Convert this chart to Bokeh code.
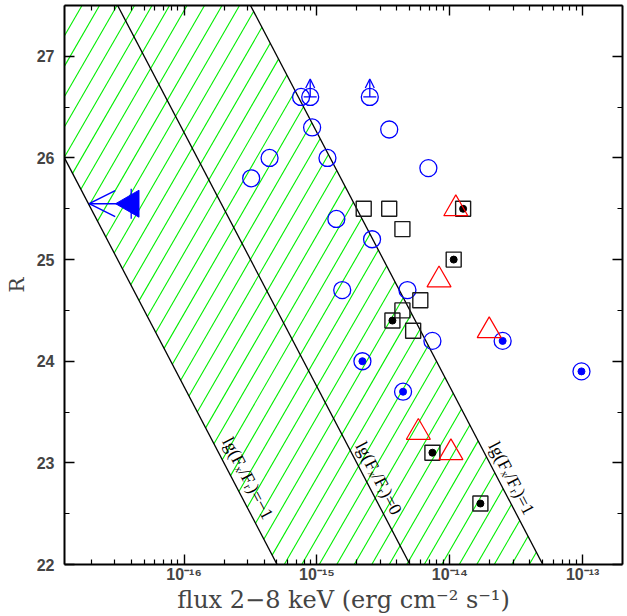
import math
import numpy as np
from bokeh.plotting import figure
from bokeh.models import (LogAxis, LinearAxis, FixedTicker,
                          CustomJSTickFormatter, Arrow, OpenHead, ColumnDataSource, Range1d)
from bokeh.core.properties import value
from bokeh.embed import file_html
from bokeh.resources import INLINE

# ---------------- data ----------------
open_circle_flux = [7.6e-16, 9.2e-16, 3.5e-15, 4.4e-16, 1.2e-15, 3.2e-16, 6.9e-15,
                    1.4e-15, 2.6e-15, 1.55e-15, 4.8e-15, 7.4e-15]
open_circle_R = [26.6, 26.3, 26.28, 26.0, 26.0, 25.8, 25.9, 25.4, 25.2, 24.7, 24.7, 24.2]

limit_circle_flux = [8.9e-16, 2.5e-15]      # R upper limits (arrow up)
limit_circle_R = [26.6, 26.6]

dot_circle_flux = [2.2e-15, 4.45e-15, 2.5e-14, 9.8e-14]
dot_circle_R = [24.0, 23.7, 24.2, 23.9]

open_square_flux = [2.25e-15, 3.5e-15, 4.4e-15, 6.0e-15, 4.4e-15, 5.3e-15]
open_square_R = [25.5, 25.5, 25.3, 24.6, 24.5, 24.3]

dot_square_flux = [1.26e-14, 1.07e-14, 3.7e-15, 7.4e-15, 1.7e-14]
dot_square_R = [25.5, 25.0, 24.4, 23.1, 22.6]

triangle_flux = [1.11e-14, 8.3e-15, 1.98e-14, 5.8e-15, 1.02e-14]
triangle_R = [25.5, 24.8, 24.3, 23.3, 23.1]

limit_tri_flux = [4.0e-17]                  # flux upper limit (arrow left)
limit_tri_R = [25.55]

ratio_levels = [-1, 0, 1]
ratio_labels = ["lg(F\u2093/F\u1d63)=\u22121", "lg(F\u2093/F\u1d63)=0", "lg(F\u2093/F\u1d63)=1"]

x_tick_values = [1e-16, 1e-15, 1e-14, 1e-13]
y_tick_values = [22, 23, 24, 25, 26, 27]

LOG_XMIN, LOG_XMAX = -16.9, -12.7
Y_MIN, Y_MAX = 22.0, 27.5

# ---------------- layout ----------------
FRAME_W, FRAME_H = 558, 559
B_LEFT, B_RIGHT, B_TOP, B_BOTTOM = 64, 5, 5, 52

p = figure(width=B_LEFT + FRAME_W + B_RIGHT, height=B_TOP + FRAME_H + B_BOTTOM,
           x_axis_type="log",
           x_range=Range1d(10**LOG_XMIN, 10**LOG_XMAX), y_range=Range1d(Y_MIN, Y_MAX),
           output_backend="svg", toolbar_location=None,
           min_border_left=B_LEFT, min_border_right=B_RIGHT,
           min_border_top=B_TOP, min_border_bottom=B_BOTTOM,
           background_fill_color="white", border_fill_color="white")
p.outline_line_color = None
p.grid.visible = False

# ---------------- hatch band between lg ratio = -1 and +1 ----------------
PXD = FRAME_W / (LOG_XMAX - LOG_XMIN)   # px per decade
PXR = FRAME_H / (Y_MAX - Y_MIN)         # px per R unit
theta = math.radians(60.0)
tan_t = math.tan(theta)
hs = 17.5
c_ref = 151.0 - 184.0 / tan_t
def u_of(logx, R):
    return logx + R / 2.5 + 5.5
hx0, hy0, hx1, hy1 = [], [], [], []
k_lo = int(math.floor((-FRAME_H / tan_t - hs - c_ref) / hs))
k_hi = int(math.ceil((FRAME_W + hs - c_ref) / hs))
lo_u, hi_u = min(ratio_levels), max(ratio_levels)
for k in range(k_lo, k_hi + 1):
    c = c_ref + k * hs
    ya, yb = 0.0, float(FRAME_H)
    ya = max(ya, (0 - c) * tan_t)
    yb = min(yb, (FRAME_W - c) * tan_t)
    if yb <= ya:
        continue
    def to_data(Y):
        X = c + Y / tan_t
        return LOG_XMIN + X / PXD, Y_MIN + Y / PXR
    la, ra = to_data(ya); lb, rb = to_data(yb)
    ua, ub = u_of(la, ra), u_of(lb, rb)
    def Y_at(uu):
        return ya + (uu - ua) / (ub - ua) * (yb - ya)
    y_lo = max(ya, min(Y_at(lo_u), Y_at(hi_u)))
    y_hi = min(yb, max(Y_at(lo_u), Y_at(hi_u)))
    if y_hi <= y_lo:
        continue
    l0, r0 = to_data(y_lo); l1, r1 = to_data(y_hi)
    hx0.append(10**l0); hy0.append(r0); hx1.append(10**l1); hy1.append(r1)
p.segment(hx0, hy0, hx1, hy1, line_color="#00ee00", line_width=1.1)

# ---------------- lg(Fx/Fr) = const lines ----------------
R_ends = [Y_MIN - 0.5, Y_MAX + 0.5]
for lev in ratio_levels:
    xs = [10**(lev - 5.5 - R / 2.5) for R in R_ends]
    p.line(xs, R_ends, line_color="black", line_width=1.3)

R_LAB = 22.85
lab_x = [10**(lev - 5.5 - R_LAB / 2.5) for lev in ratio_levels]
text_angle = -math.atan(2.5 * PXR / PXD)
p.text(x=lab_x, y=[R_LAB] * 3, text=ratio_labels, angle=text_angle,
       x_offset=[16, 14, 14], text_align="center", text_baseline="middle",
       text_font=value("Liberation Serif"), text_font_size="18px", text_color="black")

# ---------------- markers ----------------
BLUE, RED = "#0000ff", "#ff0000"
p.scatter(open_circle_flux, open_circle_R, marker="circle", size=17, fill_color=None,
          line_color=BLUE, line_width=1.3)
p.scatter(limit_circle_flux, limit_circle_R, marker="circle", size=17, fill_color=None,
          line_color=BLUE, line_width=1.3)
p.scatter(limit_circle_flux, limit_circle_R, marker="dash", size=13,
          line_color=BLUE, line_width=1.3)
up_len = 18.0 / PXR
p.add_layout(Arrow(end=OpenHead(size=9, line_color=BLUE, line_width=1.3),
                   source=ColumnDataSource(dict(x0=limit_circle_flux, y0=limit_circle_R,
                                                x1=limit_circle_flux,
                                                y1=[r + up_len for r in limit_circle_R])),
                   x_start="x0", y_start="y0", x_end="x1", y_end="y1",
                   line_color=BLUE, line_width=1.3))

p.scatter(dot_circle_flux, dot_circle_R, marker="circle", size=17, fill_color=None,
          line_color=BLUE, line_width=1.3)
p.scatter(dot_circle_flux, dot_circle_R, marker="circle", size=7, fill_color=BLUE,
          line_color=BLUE)

p.scatter(open_square_flux, open_square_R, marker="square", size=15, fill_color=None,
          line_color="#1a1a1a", line_width=1.4)
p.scatter(dot_square_flux, dot_square_R, marker="square", size=15, fill_color=None,
          line_color="#1a1a1a", line_width=1.4)
p.scatter(dot_square_flux, dot_square_R, marker="circle", size=7, fill_color="black",
          line_color="black")

p.scatter(triangle_flux, triangle_R, marker="triangle", size=24, fill_color=None,
          line_color=RED, line_width=1.2)

p.scatter(limit_tri_flux, limit_tri_R, marker="triangle", size=27, angle=math.pi / 2,
          fill_color=BLUE, line_color=BLUE)
p.scatter(limit_tri_flux, limit_tri_R, marker="dash", size=30, angle=math.pi / 2,
          line_color=BLUE, line_width=1.3)
left_len = 42.0 / PXD
p.add_layout(Arrow(end=OpenHead(size=26, line_color=BLUE, line_width=1.5),
                   source=ColumnDataSource(dict(x0=limit_tri_flux, y0=limit_tri_R,
                                                x1=[f * 10**(-left_len) for f in limit_tri_flux],
                                                y1=limit_tri_R)),
                   x_start="x0", y_start="y0", x_end="x1", y_end="y1",
                   line_color=BLUE, line_width=1.5))

# ---------------- axes ----------------
sup_js = """
const sup = {'-':'\u207b','0':'\u2070','1':'\u00b9','2':'\u00b2','3':'\u00b3','4':'\u2074',
             '5':'\u2075','6':'\u2076','7':'\u2077','8':'\u2078','9':'\u2079'};
const e = Math.round(Math.log10(tick));
return '10' + String(e).split('').map(c => sup[c]).join('');
"""
x_minor = [k * 10.0**e for e in range(-18, -12) for k in range(2, 10)]
x_ticker = FixedTicker(ticks=x_tick_values, minor_ticks=x_minor)
y_ticker = FixedTicker(ticks=y_tick_values,
                       minor_ticks=[v + 0.5 for v in y_tick_values])

def style_axis(ax):
    ax.axis_line_color = "black"
    ax.axis_line_width = 2
    ax.major_tick_in = 10
    ax.major_tick_out = 0
    ax.minor_tick_in = 5
    ax.minor_tick_out = 0
    ax.major_tick_line_color = "black"
    ax.minor_tick_line_color = "black"
    ax.major_tick_line_width = 1.4
    ax.minor_tick_line_width = 1.2

xa = p.xaxis[0]
xa.ticker = x_ticker
xa.formatter = CustomJSTickFormatter(code=sup_js)
style_axis(xa)
xa.major_label_text_font = "Liberation Sans"
xa.major_label_text_font_style = "bold"
xa.major_label_text_font_size = "16px"
xa.major_label_standoff = 1
xa.axis_label = "flux 2\u22128 keV (erg cm\u207b\u00b2 s\u207b\u00b9)"
xa.axis_label_text_font = "DejaVu Serif"
xa.axis_label_text_font_style = "normal"
xa.axis_label_text_font_size = "24px"
xa.axis_label_standoff = 0

ya_ = p.yaxis[0]
ya_.ticker = y_ticker
style_axis(ya_)
ya_.major_label_text_font = "Liberation Sans"
ya_.major_label_text_font_style = "bold"
ya_.major_label_text_font_size = "16px"
ya_.major_label_standoff = 10
ya_.axis_label = "R"
ya_.axis_label_text_font = "DejaVu Serif"
ya_.axis_label_text_font_style = "normal"
ya_.axis_label_text_font_size = "20px"
ya_.axis_label_standoff = 5

blank = CustomJSTickFormatter(code="return '';")
top = LogAxis(ticker=x_ticker, formatter=blank, major_label_standoff=0,
              major_label_text_font_size="0px")
style_axis(top)
right = LinearAxis(ticker=y_ticker, formatter=blank, major_label_standoff=0,
                   major_label_text_font_size="0px")
style_axis(right)
p.add_layout(top, "above")
p.add_layout(right, "right")

open("out.html", "w").write(file_html(p, INLINE))
